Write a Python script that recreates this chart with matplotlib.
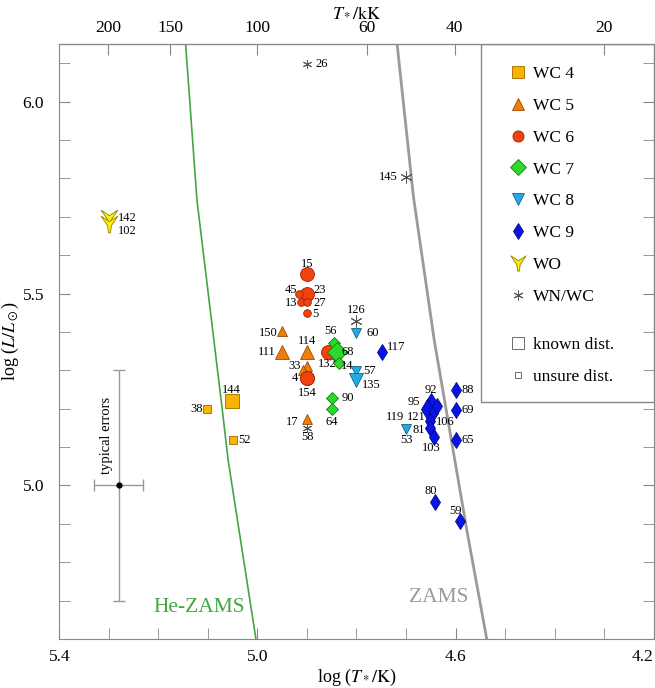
import numpy as np
import matplotlib.pyplot as plt
from matplotlib.lines import Line2D
from matplotlib.path import Path
from matplotlib.patches import Rectangle

plt.rcParams['font.family'] = ['Liberation Serif', 'DejaVu Serif']
plt.rcParams['mathtext.fontset'] = 'stix'

# WR numbers, log T*, log L, known distance (1) or not (0)
wc4_id = ['144', '38', '52']
wc4_t = [5.052, 5.101, 5.049]
wc4_l = [5.219, 5.198, 5.119]
wc4_known = [1, 0, 0]

wc5_id = ['150', '111', '114', '33', '', '17']
wc5_t = [4.950, 4.950, 4.899, 4.900, 4.908, 4.900]
wc5_l = [5.402, 5.349, 5.349, 5.311, 5.302, 5.172]
wc5_known = [0, 1, 1, 0, 0, 0]

wc6_id = ['15', '23', '45', '13', '27', '5', '132', '4', '154']
wc6_t = [4.899, 4.899, 4.916, 4.912, 4.899, 4.899, 4.858, 4.899, 4.899]
wc6_l = [5.550, 5.500, 5.500, 5.479, 5.479, 5.450, 5.349, 5.280, 5.280]
wc6_known = [1, 1, 0, 0, 0, 0, 1, 1, 1]

wc7_id = ['56', '68', '14', '90', '64']
wc7_t = [4.846, 4.839, 4.836, 4.850, 4.850]
wc7_l = [5.372, 5.349, 5.320, 5.229, 5.200]
wc7_known = [0, 1, 0, 0, 0]

wc8_id = ['60', '57', '135', '53']
wc8_t = [4.800, 4.800, 4.800, 4.700]
wc8_l = [5.397, 5.298, 5.276, 5.147]
wc8_known = [0, 0, 1, 0]

wc9_id = ['117', '92', '95', '121', '106', '119', '81', '103', '88', '69', '65', '80', '59']
wc9_t = [4.749, 4.649, 4.657, 4.645, 4.638, 4.651, 4.651, 4.643, 4.600, 4.600, 4.600, 4.642, 4.592]
wc9_l = [5.349, 5.219, 5.198, 5.190, 5.206, 5.169, 5.151, 5.126, 5.248, 5.197, 5.119, 4.957, 4.908]
wc9_known = [0, 0, 1, 0, 0, 0, 0, 0, 0, 0, 0, 0, 0]

wo_id = ['142', '102']
wo_t = [5.300, 5.300]
wo_l = [5.698, 5.680]
wo_known = [1, 1]

wnwc_id = ['126', '58', '26', '145']
wnwc_t = [4.800, 4.899, 4.900, 4.701]
wnwc_l = [5.428, 5.149, 6.098, 5.803]
wnwc_known = [1, 0, 0, 1]

hezams_t = [5.145, 5.122, 5.071, 5.059, 5.003]
hezams_l = [6.15, 5.743, 5.198, 5.065, 4.60]
zams_t = [4.718, 4.685, 4.643, 4.577, 4.537]
zams_l = [6.15, 5.752, 5.378, 4.882, 4.60]

top_ticks = [200, 150, 100, 60, 40, 20]

# label offsets in pixels
offs = {'15': (0, 10), '45': (-8, 4), '23': (12, 4), '13': (-10, -1), '27': (12, -1),
        '5': (8, -1), '126': (0, 11), '150': (-14, -2), '56': (-3, 12), '60': (16, 0),
        '114': (0, 11), '111': (-15, 0), '68': (11, 0), '132': (0, -12), '14': (9, -3),
        '33': (-12, 0), '57': (13, 0), '4': (-13, 0), '135': (15, -5), '154': (0, -15),
        '90': (16, 0), '64': (0, -13), '17': (-15, -3), '58': (0, -9), '142': (18, 0),
        '102': (18, -7), '144': (0, 11), '38': (-11, 0), '52': (11, 0), '26': (15, 0),
        '145': (-17, 0), '117': (14, 5), '92': (0, 11), '95': (-13, 7), '119': (-35, 4),
        '121': (-17, -4), '106': (9, -16), '81': (-12, -2), '53': (0, -11), '103': (-3, -11),
        '88': (12, 0), '69': (12, 0), '65': (12, 0), '80': (-4, 11), '59': (-4, 10)}

wo_marker = Path([(-1.0, 1.0), (0.0, 0.35), (1.0, 1.0), (0.22, -0.15), (0.12, -1.0),
                  (-0.12, -1.0), (-0.22, -0.15), (-1.0, 1.0)], closed=True)
aster = (6, 2, 0)

groups = [
    ('WC 4', wc4_id, wc4_t, wc4_l, wc4_known, 's', '#f9b400', '#9a6a00', 9.5, 6),
    ('WC 5', wc5_id, wc5_t, wc5_l, wc5_known, '^', '#f07d0a', '#9a4a00', 9.5, 6.5),
    ('WC 6', wc6_id, wc6_t, wc6_l, wc6_known, 'o', '#f2420f', '#a02000', 10, 5.5),
    ('WC 7', wc7_id, wc7_t, wc7_l, wc7_known, 'D', '#2ad92a', '#137a13', 10, 6),
    ('WC 8', wc8_id, wc8_t, wc8_l, wc8_known, 'v', '#22a9df', '#11668a', 10, 7),
    ('WC 9', wc9_id, wc9_t, wc9_l, wc9_known, 'd', '#0b14e6', '#000880', 10, 8),
    ('WO', wo_id, wo_t, wo_l, wo_known, wo_marker, '#fff200', '#8a8000', 12, 9),
    ('WN/WC', wnwc_id, wnwc_t, wnwc_l, wnwc_known, aster, '#555555', '#555555', 8.5, 6.5),
]

fig = plt.figure(figsize=(6.55, 6.88), dpi=100)
ax = fig.add_axes([0.0905, 0.0712, 0.9075, 0.8648])

ax.plot(hezams_t, hezams_l, color='#44a544', lw=1.2, zorder=1)
ax.plot(zams_t, zams_l, color='#9a9a9a', lw=2, zorder=1)
ax.text(5.118, 4.681, 'He-ZAMS', color='#44a544', fontsize=15.5, ha='center', va='center')
ax.text(4.634, 4.707, 'ZAMS', color='#9a9a9a', fontsize=15.5, ha='center', va='center')

handles = []
for name, ids, t, l, known, mk, fc, ec, big, small in groups:
    for i in range(len(ids)):
        ms = big if known[i] else small
        if mk == aster:
            ax.plot(t[i], l[i], marker=mk, ms=ms, color=fc, mew=0.7, ls='none', zorder=3)
        else:
            ax.plot(t[i], l[i], marker=mk, ms=ms, mfc=fc, mec=ec, mew=0.6, ls='none', zorder=3)
        if ids[i]:
            dx, dy = offs[ids[i]]
            ax.annotate(ids[i], (t[i], l[i]), xytext=(dx, dy), textcoords='offset pixels',
                        ha='center', va='center', fontsize=9)
    if mk == aster:
        handles.append(Line2D([], [], marker=mk, ms=7, color=fc, mew=0.7, ls='none'))
    else:
        handles.append(Line2D([], [], marker=mk, ms=8 if mk != wo_marker else 11,
                              mfc=fc, mec=ec, mew=0.6, ls='none'))

# typical errors
ax.errorbar(5.28, 5.0, xerr=0.05, yerr=0.3, fmt='o', color='k', ms=3.5,
            ecolor='#999999', elinewidth=1, capsize=4, capthick=1, zorder=2)
ax.text(5.304, 5.131, 'typical errors', rotation=90, fontsize=10.5, ha='center', va='center')

ax.set_xlim(5.4, 4.2)
ax.set_ylim(4.6, 6.15)
ax.set_xticks([5.4, 5.0, 4.6, 4.2])
xl = ax.set_xticklabels(['5.4', '5.0', '4.6', '4.2'])
xl[-1].set_horizontalalignment('right')
ax.set_xticks(np.arange(4.3, 5.4, 0.1), minor=True)
ax.set_yticks([5.0, 5.5, 6.0])
ax.set_yticklabels(['5.0', '5.5', '6.0'])
ax.set_yticks(np.arange(4.7, 6.15, 0.1), minor=True)
ax.tick_params(which='both', direction='in', color='#888888', labelsize=12.5,
               top=False, right=True, length=8)
ax.tick_params(axis='x', pad=7)
ax.tick_params(axis='y', pad=11)
for s in ax.spines.values():
    s.set_color('#888888')

ax.set_xlabel('log ($T_*/\\mathrm{K}$)', fontsize=13)
ax.xaxis.set_label_coords(0.5, -0.046)
ax.set_ylabel('log ($L/L_\\odot$)', fontsize=13)
ax.yaxis.set_label_coords(-0.064, 0.5)

sec = ax.secondary_xaxis('top', functions=(lambda x: 10**x / 1000.0, lambda k: np.log10(np.maximum(k, 1e-3) * 1000.0)))
sec.set_xticks(top_ticks)
sec.set_xticklabels([str(k) for k in top_ticks])
sec.tick_params(direction='in', color='#888888', labelsize=12.5, length=8, pad=6)
sec.set_xlabel('$T_*/\\mathrm{kK}$', fontsize=13)
sec.xaxis.set_label_coords(0.5, 1.045, transform=ax.transAxes)

ax.add_patch(Rectangle((0.7095, 0.398), 0.2905, 0.602, transform=ax.transAxes,
                       fill=False, edgecolor='#888888', lw=1, zorder=4))
leg1 = ax.legend(handles, [g[0] for g in groups], loc='upper left', bbox_to_anchor=(0.757, 0.963),
                 frameon=False, handlelength=1, handletextpad=0.35, borderaxespad=0, borderpad=0,
                 labelspacing=0.9, fontsize=12.5)
ax.add_artist(leg1)
dist_h = [Line2D([], [], marker='s', ms=9, mfc='white', mec='#555555', mew=0.6, ls='none'),
          Line2D([], [], marker='s', ms=5, mfc='white', mec='#555555', mew=0.6, ls='none')]
ax.legend(dist_h, ['known dist.', 'unsure dist.'], loc='upper left', bbox_to_anchor=(0.757, 0.508),
          frameon=False, handlelength=1, handletextpad=0.35, borderaxespad=0, borderpad=0,
          labelspacing=0.9, fontsize=12.5)

fig.savefig('out.png', dpi=100)
